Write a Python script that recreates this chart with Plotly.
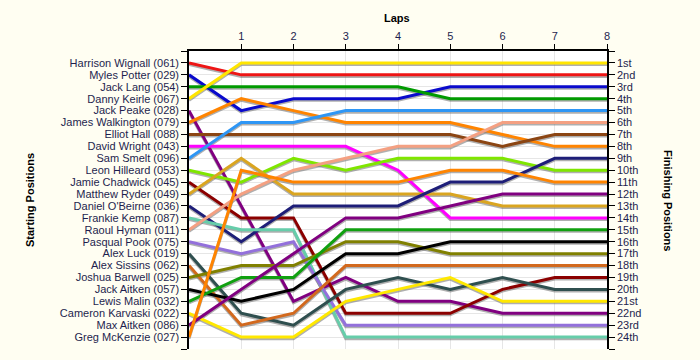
import plotly.graph_objects as go

laps = [0, 1, 2, 3, 4, 5, 6, 7, 8]
lap_labels = ["1", "2", "3", "4", "5", "6", "7", "8"]

drivers = [
    "Harrison Wignall (061)", "Myles Potter (029)", "Jack Lang (054)", "Danny Keirle (067)",
    "Jack Peake (028)", "James Walkington (079)", "Elliot Hall (088)", "David Wright (043)",
    "Sam Smelt (096)", "Leon Hilleard (053)", "Jamie Chadwick (045)", "Matthew Ryder (049)",
    "Daniel O'Beirne (036)", "Frankie Kemp (087)", "Raoul Hyman (011)", "Pasqual Pook (075)",
    "Alex Luck (019)", "Alex Sissins (062)", "Joshua Barwell (025)", "Jack Aitken (057)",
    "Lewis Malin (032)", "Cameron Karvaski (022)", "Max Aitken (086)", "Greg McKenzie (027)",
]

finish_labels = ["1st", "2nd", "3rd", "4th", "5th", "6th", "7th", "8th", "9th", "10th",
                 "11th", "12th", "13th", "14th", "15th", "16th", "17th", "18th", "19th",
                 "20th", "21st", "22nd", "23rd", "24th"]

# Position of each driver after each lap (lap 0 = starting grid)
harrison_wignall = [1, 2, 2, 2, 2, 2, 2, 2, 2]
myles_potter = [2, 5, 4, 4, 4, 3, 3, 3, 3]
jack_lang = [3, 3, 3, 3, 3, 4, 4, 4, 4]
danny_keirle = [4, 1, 1, 1, 1, 1, 1, 1, 1]
jack_peake = [5, 13, 21, 19, 21, 21, 22, 22, 22]
james_walkington = [6, 4, 5, 6, 6, 6, 7, 8, 8]
elliot_hall = [7, 7, 7, 7, 7, 7, 8, 7, 7]
david_wright = [8, 8, 8, 8, 10, 14, 14, 14, 14]
sam_smelt = [9, 6, 6, 5, 5, 5, 5, 5, 5]
leon_hilleard = [10, 11, 9, 10, 9, 9, 9, 10, 10]
jamie_chadwick = [11, 14, 14, 22, 22, 22, 20, 19, 19]
matthew_ryder = [12, 9, 12, 12, 12, 12, 13, 13, 13]
daniel_obeirne = [13, 16, 13, 13, 13, 11, 11, 9, 9]
frankie_kemp = [14, 15, 15, 24, 24, 24, 24, 24, 24]
raoul_hyman = [15, 12, 10, 9, 8, 8, 6, 6, 6]
pasqual_pook = [16, 17, 16, 23, 23, 23, 23, 23, 23]
alex_luck = [17, 22, 23, 20, 19, 20, 19, 20, 20]
alex_sissins = [18, 23, 22, 18, 18, 18, 18, 18, 18]
joshua_barwell = [19, 18, 18, 16, 16, 17, 17, 17, 17]
jack_aitken = [20, 21, 20, 17, 17, 16, 16, 16, 16]
lewis_malin = [21, 19, 19, 15, 15, 15, 15, 15, 15]
cameron_karvaski = [22, 24, 24, 21, 20, 19, 21, 21, 21]
max_aitken = [23, 20, 17, 14, 14, 13, 12, 12, 12]
greg_mckenzie = [24, 10, 11, 11, 11, 10, 10, 11, 11]

series = [
    harrison_wignall, myles_potter, jack_lang, danny_keirle, jack_peake, james_walkington,
    elliot_hall, david_wright, sam_smelt, leon_hilleard, jamie_chadwick, matthew_ryder,
    daniel_obeirne, frankie_kemp, raoul_hyman, pasqual_pook, alex_luck, alex_sissins,
    joshua_barwell, jack_aitken, lewis_malin, cameron_karvaski, max_aitken, greg_mckenzie,
]

colors = [
    "#EE1515", "#0A0ACC", "#009A00", "#FFE500", "#800080", "#FF8400",
    "#8B4513", "#FF00FF", "#2E96F5", "#7FE600", "#8B0000", "#DAA520",
    "#1E1E78", "#66CDAA", "#F4A082", "#9370DB", "#2F4F4F", "#D2691E",
    "#808000", "#000000", "#10A010", "#FFE800", "#800080", "#FF8400",
]

n = len(drivers)
label_color = "#1E1E4E"
font_family = "Liberation Sans, Arial, sans-serif"

fig = go.Figure()

# shadows (on a slightly shifted hidden axis)
for i in range(n):
    fig.add_trace(go.Scatter(
        x=laps, y=series[i], mode="lines", xaxis="x", yaxis="y",
        line=dict(color="rgba(110,110,110,0.55)", width=3),
        hoverinfo="skip", showlegend=False,
    ))

# coloured lines
for i in range(n):
    fig.add_trace(go.Scatter(
        x=laps, y=series[i], mode="lines", xaxis="x", yaxis="y2",
        line=dict(color=colors[i], width=3),
        name=drivers[i], showlegend=False,
    ))

# dummy for right axis
fig.add_trace(go.Scatter(x=[0], y=[0], mode="markers", xaxis="x", yaxis="y3",
                         marker=dict(opacity=0), hoverinfo="skip", showlegend=False))

tick_vals = list(range(0, n + 2))
left_text = [""] + drivers + [""]
right_text = [""] + finish_labels + [""]

shift = 0.13

fig.update_layout(
    width=700, height=360,
    margin=dict(l=189, r=93, t=51, b=11, autoexpand=False),
    paper_bgcolor="#FFFEF2",
    plot_bgcolor="#FFFFFF",
    font=dict(family=font_family, size=11, color=label_color),
    xaxis=dict(
        side="top", range=[0, 8], tickvals=laps[1:], ticktext=lap_labels,
        showline=True, linecolor="#000000", linewidth=1.5,
        ticks="outside", ticklen=5, tickcolor="#000000",
        showgrid=True, gridcolor="#E6E6E6", zeroline=False, automargin=False,
        tickfont=dict(size=11, color=label_color),
    ),
    yaxis=dict(
        range=[n + 1 - shift, -shift], showticklabels=False, showgrid=False,
        showline=False, zeroline=False, ticks="", automargin=False,
    ),
    yaxis2=dict(
        overlaying="y", side="left", range=[n + 1, 0],
        tickvals=tick_vals, ticktext=left_text,
        showline=True, linecolor="#000000", linewidth=1.5,
        ticks="outside", ticklen=6, tickcolor="#000000",
        showgrid=True, gridcolor="#E6E6E6", zeroline=False, automargin=False,
        tickfont=dict(size=11, color=label_color),
    ),
    yaxis3=dict(
        overlaying="y", side="right", range=[n + 1, 0],
        tickvals=tick_vals, ticktext=right_text,
        showline=True, linecolor="#000000", linewidth=1.5,
        ticks="outside", ticklen=6, tickcolor="#000000",
        showgrid=False, zeroline=False, automargin=False,
        tickfont=dict(size=11, color=label_color),
    ),
    annotations=[
        dict(text="<b>Laps</b>", xref="paper", yref="paper", x=0.4976, y=1 + 33 / 298,
             showarrow=False, font=dict(size=11, color="#000000"),
             xanchor="center", yanchor="middle"),
        dict(text="<b>Starting Positions</b>", xref="paper", yref="paper",
             x=(30 - 189) / 418, y=0.5, textangle=-90, showarrow=False,
             font=dict(size=11, color="#000000"), xanchor="center", yanchor="middle"),
        dict(text="<b>Finishing Positions</b>", xref="paper", yref="paper",
             x=(668 - 189) / 418, y=0.5, textangle=90, showarrow=False,
             font=dict(size=11, color="#000000"), xanchor="center", yanchor="middle"),
    ],
)

fig.write_html(
    "out.html",
    config={"displayModeBar": False},
    post_script="document.body.style.margin='0';document.body.style.background='#FFFEF2';",
)
